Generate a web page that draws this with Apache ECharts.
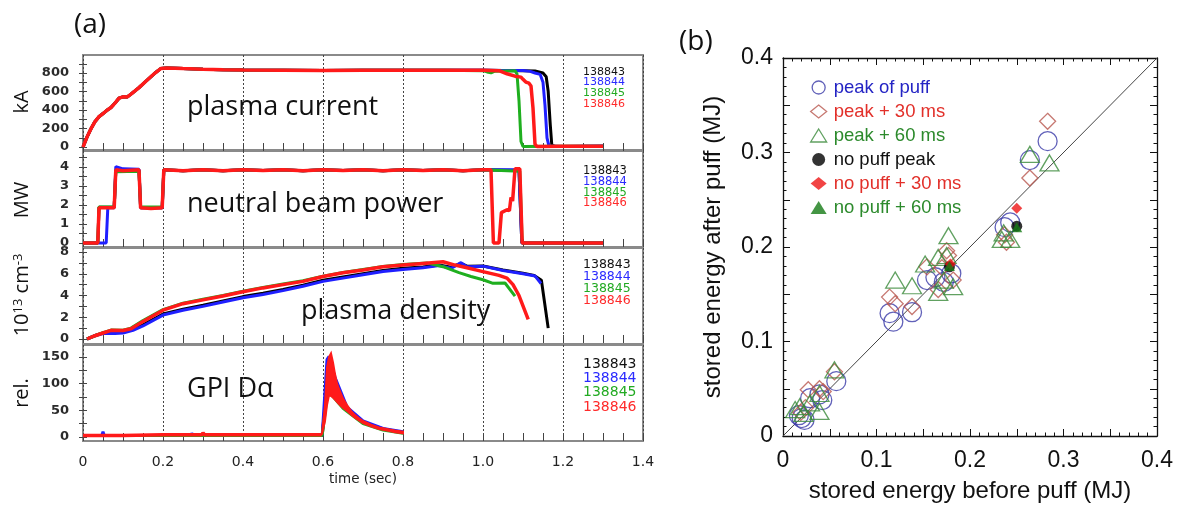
<!DOCTYPE html>
<html>
<head>
<meta charset="utf-8">
<script src="https://cdn.jsdelivr.net/npm/echarts@6/dist/echarts.min.js"></script>
<style>
  html, body { margin: 0; padding: 0; background: #fff; }
  #chart { width: 1189px; height: 508px; }
</style>
</head>
<body>
<div id="chart"></div>
<script>
// ---------- (a) time traces, shots 138843-138846 ----------
const shots = ['138843', '138844', '138845', '138846'];
const shotColors = ['#000000', '#1f1fff', '#1faf1f', '#ff1a1a'];
const shotTextColors = ['#111111', '#2a2aff', '#22aa22', '#ff2a2a'];

const timeTickLabels = [0, 0.2, 0.4, 0.6, 0.8, 1.0, 1.2, 1.4];

// plasma current (kA)
const ipTickLabels = [0, 200, 400, 600, 800];
const ipTickMarks = [0, 100, 200, 300, 400, 500, 600, 700, 800, 900];
const ipRamp = [[0,0],[0.01,108],[0.02,198],[0.03,275],[0.04,328],[0.05,362],[0.06,398],[0.07,428],[0.08,475],[0.09,528],[0.1,543],[0.11,540],[0.12,572],[0.14,642],[0.16,722],[0.18,800],[0.195,850],[0.21,855],[0.25,848],[0.3,840],[0.35,836],[0.4,833],[0.5,831],[0.6,828],[0.7,831],[0.8,829],[0.9,831]];
const ipBlack = ipRamp.concat([[1.0,829],[1.05,827],[1.1,826],[1.13,822],[1.15,800],[1.158,760],[1.163,600],[1.168,250],[1.172,20],[1.18,6],[1.3,8]]);
const ipBlue  = ipRamp.concat([[1.0,830],[1.05,828],[1.1,827],[1.118,818],[1.13,800],[1.143,785],[1.15,700],[1.155,450],[1.16,100],[1.165,10],[1.2,6],[1.3,10]]);
const ipGreen = ipRamp.concat([[1.0,826],[1.01,812],[1.02,803],[1.03,820],[1.08,826],[1.085,790],[1.09,500],[1.095,60],[1.1,6],[1.2,8],[1.3,8]]);
const ipRed   = ipRamp.concat([[1.0,831],[1.04,826],[1.06,792],[1.08,766],[1.095,756],[1.1,732],[1.107,702],[1.115,690],[1.12,660],[1.125,420],[1.13,30],[1.135,5],[1.2,8],[1.3,8]]);

// neutral beam power (MW)
const nbTickLabels = [0, 1, 2, 3, 4];
const nbTickMarks = [0, 0.5, 1, 1.5, 2, 2.5, 3, 3.5, 4, 4.5];
const nbFlat = [[0.202,3.85],[0.25,3.8],[0.3,3.86],[0.35,3.8],[0.4,3.86],[0.45,3.81],[0.5,3.85],[0.55,3.8],[0.6,3.86],[0.65,3.81],[0.7,3.85],[0.75,3.8],[0.8,3.86],[0.85,3.81],[0.9,3.85],[0.95,3.8],[1.0,3.85]];
const nbBlack = [[0,0],[0.037,0],[0.04,1.88],[0.078,1.88],[0.082,3.82],[0.14,3.82],[0.144,1.86],[0.198,1.86]].concat(nbFlat, [[1.09,3.82],[1.097,0],[1.3,0]]);
const nbBlue  = [[0,0],[0.058,0],[0.062,1.85],[0.078,1.85],[0.082,4.02],[0.1,3.9],[0.14,3.88],[0.144,1.85],[0.198,1.85]].concat(nbFlat, [[1.09,3.86],[1.097,0],[1.3,0]]);
const nbGreen = [[0,0],[0.037,0],[0.04,1.9],[0.078,1.9],[0.082,3.75],[0.14,3.78],[0.144,1.9],[0.198,1.9]].concat(nbFlat, [[1.092,3.78],[1.098,0],[1.3,0]]);
const nbRed   = [[0,0],[0.037,0],[0.04,1.85],[0.078,1.85],[0.082,3.85],[0.1,3.8],[0.14,3.85],[0.144,1.85],[0.17,1.82],[0.198,1.85]].concat(nbFlat, [[1.02,3.85],[1.026,0],[1.04,0],[1.046,1.6],[1.06,1.75],[1.066,1.7],[1.07,2.4],[1.074,2.2],[1.08,3.9],[1.092,3.9],[1.098,0],[1.3,0]]);

// plasma density (1e13 cm^-3)
const neTickLabels = [0, 2, 4, 6, 8];
const neTickMarks = [0, 1, 2, 3, 4, 5, 6, 7, 8];
const neBlack = [[0.01,0],[0.03,0.32],[0.05,0.55],[0.08,0.6],[0.1,0.65],[0.125,0.9],[0.15,1.3],[0.2,2.3],[0.25,2.75],[0.3,3.1],[0.35,3.5],[0.4,3.9],[0.45,4.2],[0.5,4.55],[0.55,4.95],[0.6,5.4],[0.65,5.7],[0.7,6.0],[0.75,6.3],[0.8,6.5],[0.85,6.62],[0.89,6.8],[0.92,6.6],[0.945,6.95],[0.96,6.7],[1.0,6.72],[1.05,6.35],[1.1,6.05],[1.128,5.85],[1.146,5.4],[1.163,1.0]];
const neBlue  = [[0.01,0],[0.03,0.3],[0.05,0.5],[0.08,0.5],[0.1,0.55],[0.125,0.8],[0.15,1.2],[0.2,2.2],[0.25,2.65],[0.3,3.0],[0.35,3.4],[0.4,3.8],[0.45,4.1],[0.5,4.45],[0.55,4.85],[0.6,5.3],[0.65,5.6],[0.7,5.9],[0.75,6.2],[0.8,6.4],[0.85,6.55],[0.89,6.75],[0.92,6.5],[0.945,7.02],[0.96,6.65],[1.0,6.7],[1.05,6.3],[1.1,6.0],[1.13,5.8],[1.145,5.1]];
const neGreen = [[0.01,0],[0.03,0.3],[0.05,0.58],[0.07,0.82],[0.1,0.8],[0.12,1.0],[0.15,1.7],[0.2,2.7],[0.25,3.3],[0.3,3.65],[0.35,4.0],[0.4,4.4],[0.45,4.75],[0.5,5.05],[0.55,5.35],[0.6,5.78],[0.65,6.12],[0.7,6.4],[0.75,6.68],[0.8,6.85],[0.86,7.0],[0.9,6.65],[0.94,6.1],[0.97,5.75],[1.0,5.45],[1.025,5.12],[1.055,5.15],[1.08,3.95]];
const neRed   = [[0.01,0],[0.03,0.3],[0.05,0.55],[0.07,0.8],[0.1,0.78],[0.12,0.95],[0.15,1.6],[0.2,2.65],[0.25,3.25],[0.3,3.6],[0.35,3.95],[0.4,4.35],[0.45,4.7],[0.5,5.0],[0.55,5.3],[0.6,5.75],[0.65,6.1],[0.7,6.35],[0.75,6.65],[0.8,6.8],[0.85,6.95],[0.9,7.1],[0.93,6.8],[0.96,6.55],[1.0,6.2],[1.04,5.85],[1.06,5.6],[1.075,5.0],[1.09,4.0],[1.113,1.8]];

// GPI D-alpha (relative)
const gpiTickLabels = [0, 50, 100, 150];
const gpiTickMarks = [0, 25, 50, 75, 100, 125, 150];
const gpiBlack = [[0,3],[0.3,3],[0.598,3],[0.613,120],[0.63,95],[0.66,52],[0.7,28],[0.75,15],[0.8,8]];
const gpiBlue  = [[0,3],[0.047,3],[0.05,10],[0.053,3],[0.27,3],[0.272,7],[0.275,3],[0.598,3],[0.61,145],[0.615,151],[0.63,112],[0.66,56],[0.7,30],[0.75,16],[0.8,10]];
const gpiGreen = [[0,3],[0.598,3],[0.612,86],[0.62,80],[0.65,54],[0.7,25],[0.75,13],[0.8,7]];
const gpiRedBase = [[0,3],[0.1,3],[0.2,4],[0.297,4],[0.3,8],[0.304,4],[0.4,4],[0.5,4],[0.597,4]];
const gpiRedUpper = [[0.597,4],[0.605,60],[0.61,130],[0.615,150],[0.62,157],[0.625,140],[0.63,118],[0.635,100],[0.64,90],[0.65,72],[0.66,60],[0.67,49],[0.68,41],[0.69,35],[0.7,30],[0.72,23],[0.74,18],[0.76,15],[0.78,12],[0.8,10]];
const gpiRedLower = [[0.597,4],[0.605,30],[0.61,60],[0.615,78],[0.62,77],[0.625,74],[0.63,70],[0.635,66],[0.64,62],[0.65,55],[0.66,49],[0.67,42],[0.68,36],[0.69,31],[0.7,26],[0.72,20],[0.74,15],[0.76,12],[0.78,9],[0.8,7]];

// ---------- (b) stored energy before / after puff (MJ) ----------
const energyTickLabels = [0, 0.1, 0.2, 0.3, 0.4];
const peakOfPuff = [[0.283,0.312],[0.264,0.292],[0.243,0.226],[0.237,0.221],[0.180,0.172],[0.163,0.168],[0.154,0.165],[0.172,0.163],[0.114,0.130],[0.118,0.121],[0.138,0.131],[0.057,0.058],[0.039,0.044],[0.029,0.040],[0.020,0.019],[0.017,0.022],[0.023,0.017],[0.042,0.038]];
const peakPlus30 = [[0.283,0.333],[0.264,0.273],[0.239,0.205],[0.237,0.213],[0.175,0.196],[0.177,0.191],[0.154,0.179],[0.182,0.165],[0.166,0.155],[0.170,0.178],[0.114,0.147],[0.120,0.140],[0.138,0.137],[0.055,0.068],[0.027,0.049],[0.039,0.050],[0.043,0.047],[0.019,0.025],[0.024,0.030]];
const peakPlus60 = [[0.285,0.289],[0.264,0.298],[0.236,0.215],[0.243,0.208],[0.234,0.208],[0.177,0.212],[0.120,0.165],[0.138,0.159],[0.152,0.182],[0.166,0.189],[0.175,0.191],[0.166,0.152],[0.182,0.158],[0.172,0.165],[0.055,0.070],[0.039,0.045],[0.039,0.026],[0.018,0.031],[0.013,0.028],[0.029,0.035],[0.022,0.024]];
const noPuffPeak = [[0.250,0.222],[0.178,0.179]];
const noPuffPlus30 = [[0.250,0.241],[0.179,0.182]];
const noPuffPlus60 = [[0.250,0.221],[0.178,0.180]];
const unityLine = [[0,0],[0.4,0.4]];

// ---------- layout ----------
const tickFont = 'DejaVu Sans';
const panels = [
  { top: 55,  height: 95, min: -32,   max: 995,  labels: ipTickLabels,  ticks: ipTickMarks,  data: [ipBlack, ipBlue, ipGreen, ipRed] },
  { top: 151, height: 96, min: -0.21, max: 4.84, labels: nbTickLabels,  ticks: nbTickMarks,  data: [nbBlack, nbBlue, nbGreen, nbRed] },
  { top: 248, height: 96, min: -0.46, max: 8.37, labels: neTickLabels,  ticks: neTickMarks,  data: [neBlack, neBlue, neGreen, neRed] },
  { top: 345, height: 96, min: -7.5,  max: 172.5, labels: gpiTickLabels, ticks: gpiTickMarks, data: [gpiBlack, gpiBlue, gpiGreen, gpiRedBase] }
];

const grids = [], xAxes = [], yAxes = [], series = [];
const tickLine = { color: '#444', width: 1 };

panels.forEach((p, i) => {
  grids.push({ left: 83, width: 560, top: p.top, height: p.height, show: true,
               borderColor: '#8a8a8a', borderWidth: 2, backgroundColor: 'transparent' });
  const xBase = {
    gridIndex: i, type: 'value', min: 0, max: 1.4, interval: 0.2,
    axisLine: { show: false },
    axisTick: { show: true, inside: true, length: 4, lineStyle: tickLine },
    minorTick: { show: true, splitNumber: 4, length: 4, lineStyle: tickLine }
  };
  xAxes.push(Object.assign({}, xBase, {
    position: 'bottom',
    splitLine: { show: true, lineStyle: { type: [2, 2], color: '#444', width: 1 } },
    axisLabel: {
      show: i === panels.length - 1, margin: 14, color: '#222',
      fontFamily: tickFont, fontSize: 14,
      customValues: timeTickLabels,
      formatter: v => (v === 0 ? '0' : v.toFixed(1))
    }
  }));
  xAxes.push(Object.assign({}, xBase, { position: 'top', splitLine: { show: false }, axisLabel: { show: false } }));
  const yBase = {
    gridIndex: i, type: 'value', min: p.min, max: p.max,
    axisLine: { show: false }, splitLine: { show: false },
    axisTick: { show: true, inside: true, length: 4, lineStyle: tickLine, customValues: p.ticks }
  };
  yAxes.push(Object.assign({}, yBase, {
    position: 'left',
    axisLabel: { customValues: p.labels, margin: 14, color: '#2b2b2b', fontFamily: tickFont,
                 fontWeight: 'bold', fontSize: 13 }
  }));
  yAxes.push(Object.assign({}, yBase, { position: 'right', axisLabel: { show: false } }));

  p.data.forEach((d, k) => {
    series.push({
      type: 'line', name: shots[k] + '-' + i, xAxisIndex: 2 * i, yAxisIndex: 2 * i,
      data: d, showSymbol: false, silent: true,
      lineStyle: { color: shotColors[k], width: k === 3 ? 3.5 : 3 }, z: 3 + k
    });
  });
});

// GPI red trace: dense fluctuation band between its envelopes
const gpiRedBand = gpiRedUpper.concat(gpiRedLower.slice().reverse());
series.push({
  type: 'custom', name: 'gpi-band', xAxisIndex: 6, yAxisIndex: 6, data: gpiRedBand, z: 8, silent: true,
  renderItem: (params, api) => {
    if (params.dataIndex !== 0) return null;
    const pts = gpiRedBand.map(pt => api.coord(pt));
    return { type: 'polygon', shape: { points: pts },
             style: { fill: '#ff1a1a', stroke: '#ff1a1a', lineWidth: 2 } };
  }
});

// ---------- (b) scatter panel ----------
const rb = 4;
grids.push({ left: 783, width: 374, top: 58, height: 380 });
const bTick = { color: '#111', width: 1 };
const fmtE = v => { const r = Math.round(v * 100); return r % 10 === 0 ? (r === 0 ? '0' : (r / 100).toFixed(1)) : ''; };
const bx = {
  gridIndex: rb, type: 'value', min: 0, max: 0.4, interval: 0.05,
  axisLine: { show: true, onZero: false, lineStyle: { color: '#111', width: 1.3 } },
  axisTick: { show: true, inside: true, length: 7, lineStyle: bTick },
  minorTick: { show: true, splitNumber: 5, length: 3.5, lineStyle: bTick },
  splitLine: { show: false }
};
xAxes.push(Object.assign({}, bx, {
  position: 'bottom',
  axisLabel: { margin: 13, color: '#111', fontFamily: 'Liberation Sans', fontSize: 23, formatter: fmtE },
  name: 'stored energy before puff (MJ)', nameLocation: 'middle', nameGap: 43,
  nameTextStyle: { color: '#111', fontFamily: 'Liberation Sans', fontSize: 24 }
}));
xAxes.push(Object.assign({}, bx, { position: 'top', axisLabel: { show: false } }));
yAxes.push(Object.assign({}, bx, {
  position: 'left',
  axisLabel: { margin: 10, color: '#111', fontFamily: 'Liberation Sans', fontSize: 23, formatter: fmtE,
               padding: [0, 0, 6, 0] },
  name: 'stored energy after puff (MJ)', nameLocation: 'middle', nameGap: 58, nameRotate: 90,
  nameTextStyle: { color: '#111', fontFamily: 'Liberation Sans', fontSize: 24 }
}));
yAxes.push(Object.assign({}, bx, { position: 'right', axisLabel: { show: false } }));

series.push({ type: 'line', name: 'unity', xAxisIndex: 8, yAxisIndex: 8, data: unityLine,
  showSymbol: false, silent: true, lineStyle: { color: '#444', width: 1 }, z: 2 });

const hollow = c => ({ color: 'rgba(0,0,0,0)', borderColor: c, borderWidth: 1.3 });
series.push(
  { type: 'scatter', name: 'peak of puff', xAxisIndex: 8, yAxisIndex: 8, data: peakOfPuff,
    symbol: 'circle', symbolSize: 19, itemStyle: hollow('#3a3aa8'), z: 4 },
  { type: 'scatter', name: 'peak + 30 ms', xAxisIndex: 8, yAxisIndex: 8, data: peakPlus30,
    symbol: 'diamond', symbolSize: [16, 16], itemStyle: hollow('#b8564e'), z: 4 },
  { type: 'scatter', name: 'peak + 60 ms', xAxisIndex: 8, yAxisIndex: 8, data: peakPlus60,
    symbol: 'triangle', symbolSize: [19, 16], itemStyle: hollow('#3a8a3a'), z: 4 },
  { type: 'scatter', name: 'no puff peak', xAxisIndex: 8, yAxisIndex: 8, data: noPuffPeak,
    symbol: 'circle', symbolSize: 11, itemStyle: { color: '#000' }, z: 5 },
  { type: 'scatter', name: 'no puff + 30 ms', xAxisIndex: 8, yAxisIndex: 8, data: noPuffPlus30,
    symbol: 'diamond', symbolSize: [11, 11], itemStyle: { color: '#ee1515' }, z: 5 },
  { type: 'scatter', name: 'no puff + 60 ms', xAxisIndex: 8, yAxisIndex: 8, data: noPuffPlus60,
    symbol: 'triangle', symbolSize: [11, 10], itemStyle: { color: '#157a15' }, z: 6 }
);

// ---------- text ----------
const graphics = [];
const addText = (x, y, text, font, color, align) => graphics.push({
  type: 'text', x, y, silent: true,
  style: { text, font, fill: color || '#111', align: align || 'left', verticalAlign: 'middle' }
});

addText(74, 25, '(a)', '28px "Open Sans"');
addText(679, 42, '(b)', '28px "Open Sans"');
addText(187, 107, 'plasma current', '27px "Open Sans"');
addText(187, 204, 'neutral beam power', '27px "Open Sans"');
addText(301, 311, 'plasma density', '27px "Open Sans"');
addText(187, 389, 'GPI D\u03b1', '27px "Open Sans"');
addText(363, 479, 'time (sec)', '13.5px "DejaVu Sans"', '#222', 'center');

const yNames = [[102, 'kA'], [200, 'MW'], [393, 'rel.']];
yNames.forEach(([y, t]) => graphics.push({
  type: 'text', x: 22, y, rotation: Math.PI / 2, silent: true,
  style: { text: t, font: '20px "Open Sans"', fill: '#111', align: 'center', verticalAlign: 'middle' }
}));
graphics.push({
  type: 'text', x: 22, y: 295, rotation: Math.PI / 2, silent: true,
  style: {
    text: '{n|10}{s|13}{n| cm}{s|-3}', align: 'center', verticalAlign: 'middle',
    rich: {
      n: { font: '20px "Open Sans"', fill: '#111' },
      s: { font: '13px "Open Sans"', fill: '#111', verticalAlign: 'top', padding: [0, 0, 8, 0] }
    }
  }
});

// shot-number keys, one column per panel: [first row y, row step, font size]
const shotLabelRows = [[72, 10.6, 11], [171, 10.8, 11.5], [265, 12, 12.5], [364, 14.3, 14]];
shotLabelRows.forEach(([y0, step, fs]) => {
  shots.forEach((s, k) => addText(583, y0 + k * step, s, fs + 'px "DejaVu Sans"', shotTextColors[k]));
});

const chart = echarts.init(document.getElementById('chart'), null, { renderer: 'canvas' });
chart.setOption({
  animation: false,
  backgroundColor: '#ffffff',
  grid: grids,
  xAxis: xAxes,
  yAxis: yAxes,
  legend: {
    orient: 'vertical', left: 805, top: 73, itemWidth: 16, itemHeight: 13, itemGap: 5,
    selectedMode: false,
    itemStyle: { borderWidth: 1.3 },
    textStyle: { fontFamily: 'Liberation Sans', fontSize: 18.5, lineHeight: 13, padding: [0, 0, 0, 2] },
    data: [
      { name: 'peak of puff', textStyle: { color: '#2424c4' } },
      { name: 'peak + 30 ms', textStyle: { color: '#e2302a' } },
      { name: 'peak + 60 ms', textStyle: { color: '#2c8a2c' } },
      { name: 'no puff peak', textStyle: { color: '#111' } },
      { name: 'no puff + 30 ms', textStyle: { color: '#e2302a' } },
      { name: 'no puff + 60 ms', textStyle: { color: '#2c8a2c' } }
    ]
  },
  graphic: graphics,
  series
});
</script>
</body>
</html>
